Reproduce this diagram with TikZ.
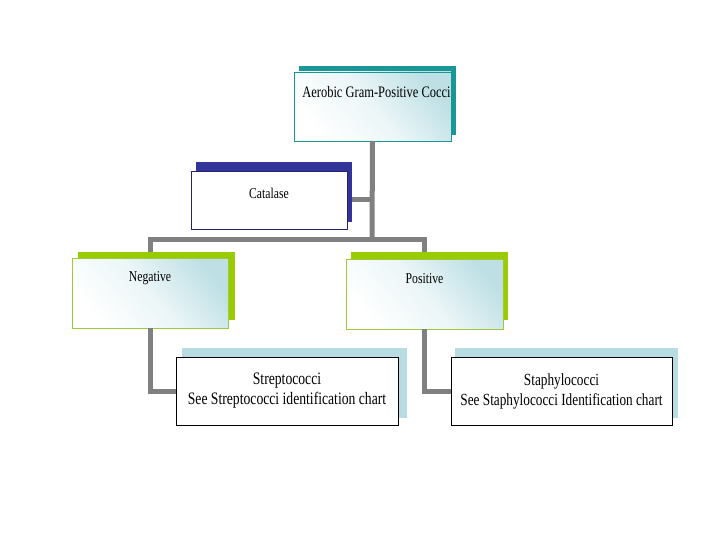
\documentclass[tikz,border=0pt]{standalone}
\usepackage{fontspec}
\setmainfont[FakeStretch=0.78]{Liberation Serif}
\definecolor{tealb}{RGB}{25,150,150}
\definecolor{navyb}{RGB}{51,51,153}
\definecolor{limeb}{RGB}{153,204,0}
\definecolor{limeline}{RGB}{160,200,60}
\definecolor{paleb}{RGB}{183,221,227}
\definecolor{gradc}{RGB}{190,224,229}
\definecolor{conn}{RGB}{128,128,128}
\tikzset{
  boxfront/.style={rectangle, inner sep=0pt, outer sep=0pt, line width=0.9pt},
  boxshadow/.style={rectangle, inner sep=0pt, outer sep=0pt, draw=none},
  gradfill/.style={top color=gradc, bottom color=white, middle color=white!70!gradc, shading angle=-50},
  lbl/.style={inner sep=0pt, font=\fontsize{15}{19}\selectfont, align=center},
  biglbl/.style={inner sep=0pt, font=\fontsize{17.5}{20}\selectfont, align=center},
  conline/.style={draw=conn, line width=5pt, line join=miter}
}
\begin{document}
\begin{tikzpicture}[x=1pt,y=-1pt]
\useasboundingbox[fill=white] (0,0) rectangle (720,540);
% connectors
\coordinate (jc) at (372,239);
\coordinate (jl) at (150,239);
\coordinate (jr) at (424.5,239);
% top box
\node[boxshadow, fill=tealb, minimum width=157pt, minimum height=69pt] (topsh) at (377.5,100.5) {};
\node[boxfront, draw=tealb, gradfill, minimum width=157pt, minimum height=69pt] (top) at (372.5,106.5) {};
\node[lbl, font=\fontsize{16}{19}\selectfont] (toptx) at ([yshift=-20pt, xshift=4pt]top.north) {Aerobic Gram-Positive Cocci};
% catalase
\node[boxshadow, fill=navyb, minimum width=156pt, minimum height=60pt] (catsh) at (274,192) {};
\node[boxfront, draw=navyb!70!black, fill=white, minimum width=156pt, minimum height=58pt] (cat) at (269,200) {};
\node[lbl] (cattx) at ([yshift=-22pt]cat.north) {Catalase};
% negative
\node[boxshadow, fill=limeb, minimum width=157pt, minimum height=68pt] (negsh) at (156,286) {};
\node[boxfront, draw=limeline, gradfill, minimum width=156pt, minimum height=70pt] (neg) at (150,293) {};
\node[lbl] (negtx) at ([yshift=-20pt]neg.north) {Negative};
% positive
\node[boxshadow, fill=limeb, minimum width=157pt, minimum height=68pt] (possh) at (429.5,286) {};
\node[boxfront, draw=limeline, gradfill, minimum width=157pt, minimum height=70pt] (pos) at (424.5,294) {};
\node[lbl] (postx) at ([yshift=-20pt]pos.north) {Positive};
% streptococci
\node[boxshadow, fill=paleb, minimum width=225pt, minimum height=70pt] (strsh) at (294.5,383) {};
\node[boxfront, draw=black, fill=white, minimum width=222pt, minimum height=68pt] (str) at (287,391) {};
\node[biglbl] (strtx) at (str.center) {Streptococci\\See Streptococci identification chart};
% staphylococci
\node[boxshadow, fill=paleb, minimum width=223pt, minimum height=70pt] (stash) at (566.5,383) {};
\node[boxfront, draw=black, fill=white, minimum width=221pt, minimum height=68pt] (sta) at (561.5,391) {};
\node[biglbl, font=\fontsize{17}{20}\selectfont] (statx) at (sta.center) {Staphylococci\\See Staphylococci Identification chart};
% connector lines
\draw[conline] (top.south) -- (jc);
\draw[conline] (cat.center -| catsh.east) -- (cat.center -| jc);
\draw[conline] (negsh.north -| jl) -- (jl) -- (jr) -- (possh.north -| jr);
\draw[conline] (neg.south) |- (str.west);
\draw[conline] (pos.south) |- (sta.west);
\end{tikzpicture}
\end{document}
